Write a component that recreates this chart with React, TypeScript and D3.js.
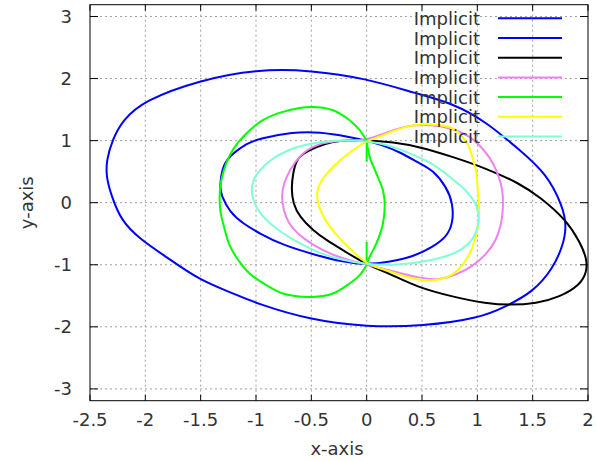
import React from 'react'
import * as d3 from 'd3'

// axis ticks
const xTicks = [-2.5, -2, -1.5, -1, -0.5, 0, 0.5, 1, 1.5, 2]
const yTicks = [-3, -2, -1, 0, 1, 2, 3]
const keyLabels = ['Implicit', 'Implicit', 'Implicit', 'Implicit', 'Implicit', 'Implicit', 'Implicit']

// curves, [x, y]
const bigBlue = [
  [-1.51, 1.974], [-0.997, 2.151], [-0.5, 2.135], [0, 2.001], [0.449, 1.759], [0.778, 1.603],
  [1.082, 1.302], [1.383, 0.846], [1.625, 0.47], [1.775, -0.068], [1.806, -0.39], [1.775, -0.685],
  [1.684, -1.06], [1.504, -1.437], [1.263, -1.667], [1.022, -1.861], [0.506, -1.99], [0, -2.001],
  [-0.5, -1.893], [-0.997, -1.624], [-1.239, -1.437], [-1.51, -1.248], [-1.811, -0.873],
  [-2.04, -0.6], [-2.22, -0.29], [-2.308, 0.121], [-2.354, 0.416], [-2.351, 0.685],
  [-2.299, 1.007], [-2.206, 1.329], [-2.007, 1.651]
]
const smallBlue = [
  [0, 1], [-0.154, 1.06], [-0.425, 1.141], [-0.666, 1.141], [-0.967, 1.034], [-1.088, 0.954],
  [-1.209, 0.793], [-1.299, 0.632], [-1.329, 0.255], [-1.314, 0.121], [-1.239, -0.148],
  [-1.118, -0.335], [-0.967, -0.496], [-0.757, -0.685], [-0.455, -0.846], [-0.214, -0.954],
  [0, -1], [0.208, -0.954], [0.419, -0.873], [0.599, -0.712], [0.721, -0.551], [0.78, -0.335],
  [0.78, -0.013], [0.721, 0.255], [0.599, 0.524], [0.479, 0.632], [0.298, 0.818], [0.147, 0.926]
]
const blackCurve = [
  [0, 1], [-0.154, 1.007], [-0.305, 0.991], [-0.455, 0.899], [-0.576, 0.793], [-0.636, 0.685],
  [-0.666, 0.47], [-0.681, 0.234], [-0.666, -0.013], [-0.606, -0.229], [-0.486, -0.443],
  [-0.364, -0.604], [-0.214, -0.765], [0, -1], [0.208, -1.141], [0.449, -1.357], [0.78, -1.518],
  [1.082, -1.624], [1.293, -1.651], [1.534, -1.624], [1.745, -1.518], [1.926, -1.329],
  [1.99, -1.115], [1.99, -0.899], [1.926, -0.632], [1.806, -0.282], [1.564, 0.093],
  [1.383, 0.309], [1.082, 0.551], [0.78, 0.738], [0.479, 0.899], [0.238, 0.98]
]
const pinkCurve = [
  [0, 1], [-0.214, 1.007], [-0.455, 0.954], [-0.606, 0.765], [-0.696, 0.524], [-0.75, 0.314],
  [-0.771, 0.093], [-0.75, -0.121], [-0.712, -0.314], [-0.636, -0.491], [-0.486, -0.685],
  [-0.305, -0.846], [-0.154, -0.926], [0, -1], [0.235, -1.104], [0.479, -1.216], [0.66, -1.249],
  [0.811, -1.16], [0.961, -1.023], [1.082, -0.83], [1.173, -0.604], [1.218, -0.33],
  [1.232, -0.121], [1.232, 0.121], [1.218, 0.282], [1.175, 0.524], [1.112, 0.733],
  [1.022, 0.926], [0.931, 1.071], [0.778, 1.2], [0.57, 1.257], [0.389, 1.249], [0.208, 1.152]
]
// green has corners at (0, 1) and (0, -1): left arc and right bulge
const greenLeft = [
  [0, 1], [-0.063, 1.168], [-0.154, 1.329], [-0.305, 1.49], [-0.5, 1.543], [-0.757, 1.463],
  [-0.938, 1.329], [-1.103, 1.087], [-1.212, 0.846], [-1.269, 0.632], [-1.314, 0.362],
  [-1.329, 0.093], [-1.32, -0.153], [-1.293, -0.362], [-1.239, -0.685], [-1.148, -0.954],
  [-1.058, -1.141], [-0.907, -1.329], [-0.757, -1.463], [-0.5, -1.518], [-0.305, -1.463],
  [-0.154, -1.302], [-0.063, -1.168], [0, -1]
]
const greenRight = [
  [0, -1], [0.027, -0.873], [0.088, -0.657], [0.147, -0.335], [0.163, -0.013],
  [0.147, 0.201], [0.088, 0.47], [0.027, 0.738], [0, 1]
]
const greenTails = [
  [[0, 1], [0, 0.66]],
  [[0, -0.93], [0, -0.63]]
]
const yellowCurve = [
  [0, 1], [0.118, 1.06], [0.253, 1.168], [0.419, 1.265], [0.63, 1.265], [0.78, 1.221],
  [0.871, 1.06], [0.931, 0.899], [0.961, 0.685], [0.992, 0.524], [1.006, 0.148],
  [1.022, -0.148], [1.006, -0.416], [0.961, -0.738], [0.871, -1.007], [0.78, -1.168],
  [0.66, -1.249], [0.479, -1.265], [0.235, -1.12], [0, -1], [-0.121, -0.793], [-0.244, -0.577],
  [-0.335, -0.39], [-0.41, -0.174], [-0.449, 0.04], [-0.449, 0.201], [-0.41, 0.362],
  [-0.335, 0.524], [-0.244, 0.685], [-0.124, 0.846]
]
const cyanCurve = [
  [0, 1], [-0.305, 1.007], [-0.515, 0.954], [-0.726, 0.846], [-0.877, 0.685], [-0.967, 0.524],
  [-1.028, 0.362], [-1.043, 0.201], [-1.028, 0.04], [-0.967, -0.174], [-0.877, -0.335],
  [-0.757, -0.496], [-0.606, -0.657], [-0.425, -0.818], [-0.214, -0.926], [0, -1],
  [0.298, -1.007], [0.599, -0.926], [0.811, -0.818], [0.931, -0.657], [0.992, -0.496],
  [1.022, -0.229], [0.992, -0.013], [0.901, 0.201], [0.75, 0.416], [0.599, 0.636],
  [0.389, 0.797], [0.208, 0.926]
]

const W = 597
const H = 461
const plot = { left: 90, right: 588, top: 4.7, bottom: 400.7 }
const font = '"DejaVu Sans", Verdana, sans-serif'
const textColor = '#333'

export default function App() {
  const x = d3.scaleLinear().domain([-2.5, 2]).range([plot.left, plot.right])
  const y = d3.scaleLinear().domain([-3.19, 3.19]).range([plot.bottom, plot.top])

  const closed = d3.line<number[]>()
    .x(d => x(d[0]))
    .y(d => y(d[1]))
    .curve(d3.curveBasisClosed)
  const arc = d3.line<number[]>()
    .x(d => x(d[0]))
    .y(d => y(d[1]))
    .curve(d3.curveCatmullRom.alpha(0.5))
  const straight = d3.line<number[]>()
    .x(d => x(d[0]))
    .y(d => y(d[1]))

  const keyColors = ['#0000ff', '#0000ff', '#000000', '#ee82ee', '#00ff00', '#ffff00', '#7fffd4']

  const paths = [
    { d: closed(bigBlue), color: keyColors[0] },
    { d: closed(smallBlue), color: keyColors[1] },
    { d: closed(blackCurve), color: keyColors[2] },
    { d: closed(pinkCurve), color: keyColors[3] },
    { d: arc(greenLeft), color: keyColors[4] },
    { d: arc(greenRight), color: keyColors[4] },
    ...greenTails.map(t => ({ d: straight(t), color: keyColors[4] })),
    { d: closed(yellowCurve), color: keyColors[5] },
    { d: closed(cyanCurve), color: keyColors[6] }
  ]

  const gridX = xTicks.filter(t => t > -2.5 && t < 2)

  return (
    <svg width={W} height={H} style={{ position: 'absolute', left: 0, top: 0, background: '#fff' }}>
      <rect width={W} height={H} fill="#fff" />
      {/* grid */}
      <g stroke="#a0a0a0" strokeWidth={1} strokeDasharray="2,3">
        {gridX.map((t, i) => (
          <line key={'gx' + i} x1={x(t)} x2={x(t)} y1={plot.top} y2={plot.bottom} />
        ))}
        {yTicks.map((t, i) => (
          <line key={'gy' + i} x1={plot.left} x2={plot.right} y1={y(t)} y2={y(t)} />
        ))}
      </g>

      {/* curves */}
      <g fill="none" strokeWidth={2} strokeLinejoin="round">
        {paths.map((p, i) => (
          <path key={'c' + i} d={p.d || ''} stroke={p.color} />
        ))}
      </g>

      {/* border and ticks */}
      <rect x={plot.left} y={plot.top} width={plot.right - plot.left} height={plot.bottom - plot.top}
        fill="none" stroke="#000" strokeWidth={1} />
      <g stroke="#000" strokeWidth={1}>
        {xTicks.map((t, i) => (
          <g key={'tx' + i}>
            <line x1={x(t)} x2={x(t)} y1={plot.bottom} y2={plot.bottom - 6} />
            <line x1={x(t)} x2={x(t)} y1={plot.top} y2={plot.top + 6} />
          </g>
        ))}
        {yTicks.map((t, i) => (
          <g key={'ty' + i}>
            <line x1={plot.left} x2={plot.left + 8} y1={y(t)} y2={y(t)} />
            <line x1={plot.right} x2={plot.right - 8} y1={y(t)} y2={y(t)} />
          </g>
        ))}
      </g>

      {/* tick labels */}
      <g fontFamily={font} fontSize={18} fill={textColor}>
        {xTicks.map((t, i) => (
          <text key={'lx' + i} x={x(t)} y={426} textAnchor="middle">{String(t)}</text>
        ))}
        {yTicks.map((t, i) => (
          <text key={'ly' + i} x={72} y={y(t)} textAnchor="end" dominantBaseline="central">{String(t)}</text>
        ))}
        <text x={337} y={455} textAnchor="middle">x-axis</text>
        <text transform={`translate(26,${y(0)}) rotate(-90)`} textAnchor="middle" dominantBaseline="central">y-axis</text>
      </g>

      {/* key */}
      <g fontFamily={font} fontSize={18} fill={textColor}>
        {keyLabels.map((lab, i) => {
          const ry = 18.3 + i * 19.7
          return (
            <g key={'k' + i}>
              <text x={480} y={ry} textAnchor="end" dominantBaseline="central">{lab}</text>
              <line x1={498} x2={562} y1={ry} y2={ry} stroke={keyColors[i]} strokeWidth={2} />
            </g>
          )
        })}
      </g>
    </svg>
  )
}
